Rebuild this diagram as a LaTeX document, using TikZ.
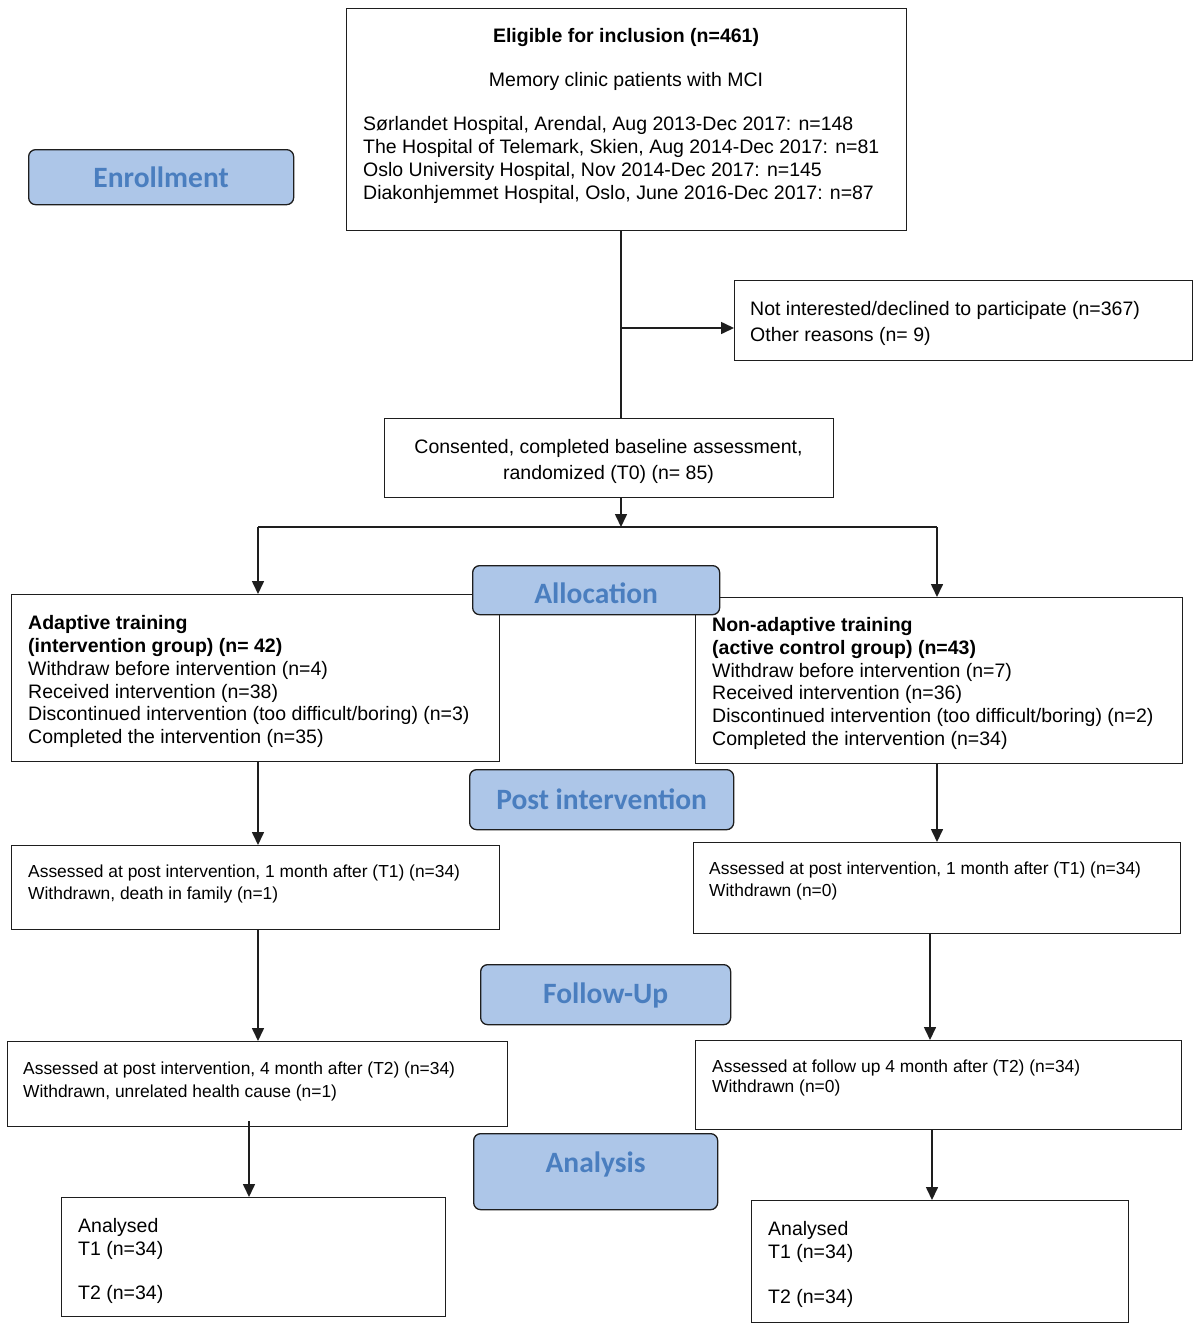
\documentclass[tikz,border=0pt]{standalone}
\usepackage{fontspec}
\setmainfont{Liberation Sans}
\newfontfamily\labfont{Carlito}
\usetikzlibrary{arrows.meta}
\definecolor{labfill}{HTML}{ADC6E8}
\definecolor{labtext}{HTML}{4A7EBF}
\definecolor{ink}{HTML}{1E1E1E}
\tikzset{
  box/.style={draw=ink, line width=1.3pt, rectangle, inner sep=0pt, anchor=north west, fill=white},
  lab/.style={draw=ink, line width=1.3pt, rectangle, rounded corners=7pt, fill=labfill, inner sep=0pt, anchor=north west},
  labtxt/.style={font=\labfont\bfseries\fontsize{29.5}{32}\selectfont, text=labtext, inner sep=0pt},
  tx/.style={font=\fontsize{19.5}{22}\selectfont, text=black, inner sep=0pt, anchor=base west},
  txb/.style={tx, font=\bfseries\fontsize{19.5}{22}\selectfont},
  txc/.style={font=\fontsize{19.5}{22}\selectfont, text=black, inner sep=0pt, anchor=base},
  ts/.style={font=\fontsize{17.4}{20}\selectfont, text=black, inner sep=0pt, anchor=base west},
  conn/.style={draw=ink, line width=1.6pt},
  arr/.style={conn, -{Triangle[length=13pt,width=12pt]}}
}
\begin{document}
\begin{tikzpicture}[x=1pt,y=-1pt]
\path[use as bounding box, fill=white] (0,0) rectangle (1200,1331);

% boxes
\node[box, minimum width=560pt, minimum height=222pt] (elig) at (346,8) {};
\node[box, minimum width=458pt, minimum height=80pt] (notint) at (734,280) {};
\node[box, minimum width=449pt, minimum height=79pt] (consent) at (384,418) {};
\node[box, minimum width=488pt, minimum height=167pt] (adapt) at (11,594) {};
\node[box, minimum width=487pt, minimum height=166pt] (nonad) at (695,597) {};
\node[box, minimum width=488pt, minimum height=84pt] (postL) at (11,845) {};
\node[box, minimum width=487pt, minimum height=91pt] (postR) at (693,842) {};
\node[box, minimum width=500pt, minimum height=85pt] (fuL) at (7,1041) {};
\node[box, minimum width=486pt, minimum height=89pt] (fuR) at (695,1040) {};
\node[box, minimum width=384pt, minimum height=119pt] (anaL) at (61,1197) {};
\node[box, minimum width=377pt, minimum height=122pt] (anaR) at (751,1200) {};

% stage labels
\node[lab, minimum width=265pt, minimum height=55pt] (enroll) at (28,149) {};
\node[labtxt] (enrollT) at (enroll.center) {Enrollment};
\node[lab, minimum width=264pt, minimum height=60pt] (postlab) at (469,769) {};
\node[labtxt] (postlabT) at (postlab.center) {Post intervention};
\node[lab, minimum width=250pt, minimum height=60pt] (fulab) at (480,964) {};
\node[labtxt] (fulabT) at ([yshift=-1pt]fulab.center) {Follow-Up};
\node[lab, minimum width=244pt, minimum height=76pt] (analab) at (473,1133) {};
\node[labtxt] (analabT) at ([yshift=7pt]analab.center) {Analysis};

% texts: eligible
\node[txc, font=\bfseries\fontsize{19.5}{22}\selectfont] (e1) at (626,42) {Eligible for inclusion (n=461)};
\node[txc] (e2) at (626,86) {Memory clinic patients with MCI};
\node[tx] (e3) at (363,130) {Sørlandet Hospital, Arendal, Aug 2013-Dec 2017: n=148};
\node[tx] (e4) at (363,153) {The Hospital of Telemark, Skien, Aug 2014-Dec 2017: n=81};
\node[tx] (e5) at (363,176) {Oslo University Hospital, Nov 2014-Dec 2017: n=145};
\node[tx] (e6) at (363,199) {Diakonhjemmet Hospital, Oslo, June 2016-Dec 2017: n=87};

\node[tx] (n1) at (750,315) {Not interested/declined to participate (n=367)};
\node[tx] (n2) at (750,341) {Other reasons (n= 9)};

\node[txc] (c1t) at (608.5,453) {Consented, completed baseline assessment,};
\node[txc] (c2t) at (608.5,479) {randomized (T0) (n= 85)};

\node[txb] (a1) at (28,629) {Adaptive training};
\node[txb] (a2) at (28,652) {(intervention group) (n= 42)};
\node[tx] (a3) at (28,675) {Withdraw before intervention (n=4)};
\node[tx] (a4) at (28,698) {Received intervention (n=38)};
\node[tx] (a5) at (28,720) {Discontinued intervention (too difficult/boring) (n=3)};
\node[tx] (a6) at (28,743) {Completed the intervention (n=35)};

\node[txb] (b1) at (712,631) {Non-adaptive training};
\node[txb] (b2) at (712,654) {(active control group) (n=43)};
\node[tx] (b3) at (712,677) {Withdraw before intervention (n=7)};
\node[tx] (b4) at (712,699) {Received intervention (n=36)};
\node[tx] (b5) at (712,722) {Discontinued intervention (too difficult/boring) (n=2)};
\node[tx] (b6) at (712,745) {Completed the intervention (n=34)};

\node[ts] (p1) at (28,877) {Assessed at post intervention, 1 month after (T1) (n=34)};
\node[ts] (p2) at (28,899) {Withdrawn, death in family (n=1)};
\node[ts] (q1) at (709,874) {Assessed at post intervention, 1 month after (T1) (n=34)};
\node[ts] (q2) at (709,896) {Withdrawn (n=0)};

\node[ts] (f1) at (23,1074) {Assessed at post intervention, 4 month after (T2) (n=34)};
\node[ts] (f2) at (23,1097) {Withdrawn, unrelated health cause (n=1)};
\node[ts] (g1) at (712,1072) {Assessed at follow up 4 month after (T2) (n=34)};
\node[ts] (g2) at (712,1092) {Withdrawn (n=0)};

\node[tx] (l1) at (78,1232) {Analysed};
\node[tx] (l2) at (78,1255) {T1 (n=34)};
\node[tx] (l3) at (78,1299) {T2 (n=34)};
\node[tx] (r1) at (768,1235) {Analysed};
\node[tx] (r2) at (768,1258) {T1 (n=34)};
\node[tx] (r3) at (768,1303) {T2 (n=34)};

% connectors
\coordinate (mx) at (621,328);
\coordinate (split) at (621,527);
\coordinate (sl) at (258,527);
\coordinate (sr) at (937,527);
\draw[conn] (elig.south -| mx) -- (consent.north -| mx);
\draw[arr] (mx) -- (notint.west |- mx);
\draw[arr] (consent.south -| split) -- (split);
\draw[conn] (sl) -- (sr);
\draw[arr] (sl) -- (adapt.north -| sl);
\draw[arr] (sr) -- (nonad.north -| sr);

\coordinate (xl) at (258,0);
\coordinate (xl2) at (249,1121);
\coordinate (xr) at (937,0);
\coordinate (xr2) at (930,0);
\coordinate (xr3) at (932,0);
\draw[arr] (adapt.south -| xl) -- (postL.north -| xl);
\draw[arr] (postL.south -| xl) -- (fuL.north -| xl);
\draw[arr] (xl2) -- (anaL.north -| xl2);
\draw[arr] (nonad.south -| xr) -- (postR.north -| xr);
\draw[arr] (postR.south -| xr2) -- (fuR.north -| xr2);
\draw[arr] (fuR.south -| xr3) -- (anaR.north -| xr3);

% Allocation label drawn last: it overlaps the adaptive box
\node[lab, minimum width=247pt, minimum height=49pt] (alloc) at (472,565) {};
\node[labtxt] (allocT) at ([yshift=-3pt]alloc.center) {Allocation};
\end{tikzpicture}
\end{document}
